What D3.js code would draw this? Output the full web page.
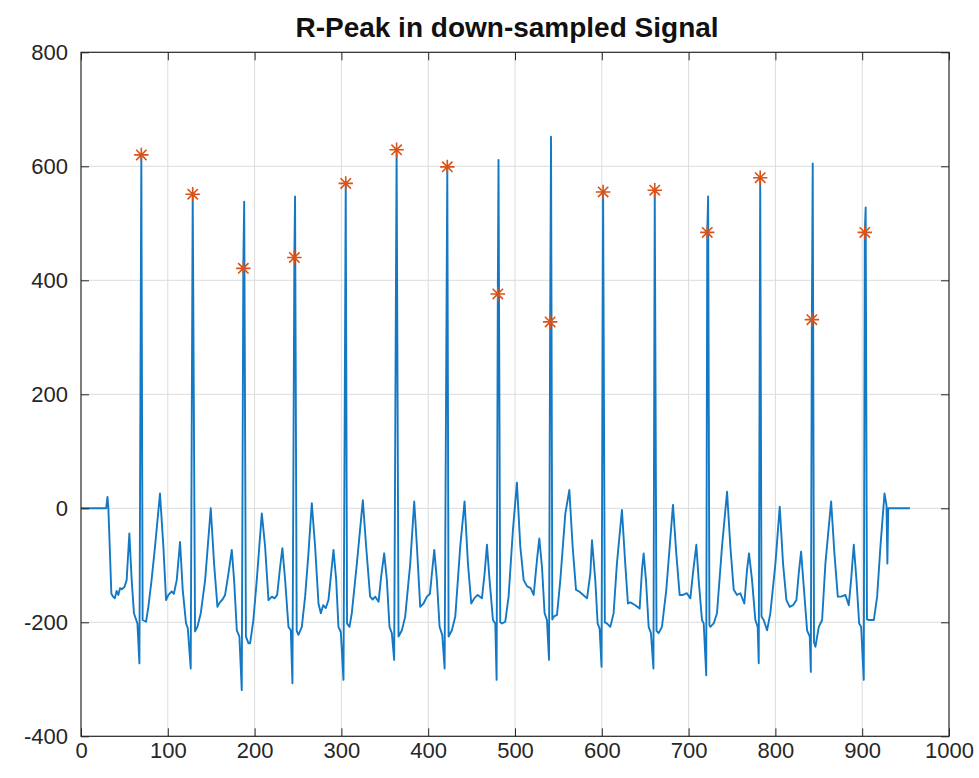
<!DOCTYPE html>
<html>
<head>
<meta charset="utf-8">
<script src="https://cdn.jsdelivr.net/npm/d3@7/dist/d3.min.js"></script>
<style>
  html, body { margin: 0; padding: 0; background: #ffffff; }
  svg { display: block; }
</style>
</head>
<body>
<div id="chart"></div>
<script>
// ---- data ----
const chartTitle = "R-Peak in down-sampled Signal";
const xTicks = [0, 100, 200, 300, 400, 500, 600, 700, 800, 900, 1000];
const yTicks = [-400, -200, 0, 200, 400, 600, 800];

// down-sampled ECG signal, [sample index, amplitude]
const ecgSignal = [
  [0,0],[29,0],[30.5,20],[31.5,2],[35,-150],[37,-155],[39,-158],[41,-145],[43,-152],[45,-140],[47,-142],[50,-138],[52.6,-126],[55.7,-44],[58.4,-126],[61,-184],[65,-202],[67.3,-272],[69.5,620],[71,-196],[75,-199],[77.6,-173],[81,-130],[85.3,-67],[91,26],[94.9,-67],[98,-161],[100.7,-152],[104.5,-146],[107,-150],[110.3,-126],[114.1,-59],[117.2,-143],[121,-202],[123,-210],[126.4,-281],
  [128.7,551],[131.4,-216],[134.1,-208],[138,-184],[143,-126],[149.5,0],[153.3,-97],[157.2,-173],[160,-165],[163,-160],[166,-152],[169.9,-114],[173.7,-73],[176.4,-126],[179.5,-214],[182.5,-225],[185.2,-319],
  [187,421],[188,538],[190,-225],[193,-237],[194.8,-237],[198.6,-196],[202.5,-126],[208.3,-9],[212.1,-67],[216,-161],[219.8,-155],[223,-158],[226,-152],[229.4,-103],[232,-70],[235.2,-126],[239,-208],[241.7,-214],[243.6,-307],
  [245.8,440],[246.6,547],[248.5,-215],[250.5,-222],[254.4,-208],[258.2,-155],[262,-80],[265.9,9],[269.7,-67],[273.6,-167],[276.3,-184],[279,-170],[282,-175],[285.1,-161],[287.8,-120],[290.9,-73],[294,-126],[296.6,-208],[299.3,-217],[302.4,-301],
  [305,570],[306.5,-202],[309.3,-208],[312,-184],[317.8,-97],[324.7,14],[328.5,-67],[333.1,-155],[336,-160],[339,-155],[342.8,-164],[345.8,-120],[349.3,-79],[352.4,-126],[355.4,-208],[358.1,-219],[360.8,-266],
  [363.6,629],[365.8,-225],[369.7,-214],[373.5,-190],[379.3,-97],[383.9,12],[387,-67],[390.8,-173],[394.6,-167],[398.5,-155],[402,-150],[404.3,-114],[407,-73],[410,-126],[413.1,-208],[416.2,-222],[418.9,-281],
  [422,599],[423.5,-225],[427.3,-214],[431.2,-190],[436.9,-67],[441.9,12],[445.8,-97],[449.6,-167],[453,-158],[457,-152],[461.9,-158],[465,-114],[467.7,-64],[470.7,-126],[474.6,-196],[477.3,-202],[478.8,-301],
  [480.2,376],[481,611],[483,-200],[485,-202],[488.8,-199],[492.6,-155],[497.6,-38],[502.2,45],[506.1,-67],[510,-126],[514,-137],[518,-140],[521.5,-152],[525.3,-91],[528,-53],[531.1,-103],[534.1,-184],[536.8,-196],[539.2,-266],
  [540.5,327],[541.5,652],[543,-195],[544.5,-190],[548.4,-187],[552.2,-126],[558,-9],[562.6,32],[566.4,-67],[570.3,-143],[574,-146],[578.6,-152],[583,-158],[586.8,-114],[588.7,-56],[592.5,-126],[595.2,-202],[597.5,-211],[599.7,-278],
  [601.5,555],[603.5,-200],[605.9,-202],[609.8,-208],[613.6,-184],[617.4,-97],[623.2,-3],[627,-97],[630.1,-167],[633,-165],[638.6,-170],[643.6,-176],[646.3,-108],[648.2,-79],[650.9,-126],[654,-208],[656.6,-219],[659.5,-281],
  [661,558],[663,-215],[665.5,-219],[669.3,-208],[674.3,-143],[682,6],[685.8,-79],[689.7,-152],[693.5,-152],[698,-149],[702,-158],[705,-114],[708.9,-64],[711.6,-126],[715.4,-196],[717.4,-202],[720.3,-293],
  [721.5,484],[722.5,547],[724,-205],[725,-208],[728.9,-202],[732.7,-184],[738.5,-67],[744.3,29],[748.1,-67],[752,-143],[755.8,-152],[759.6,-149],[764.2,-167],[767.3,-108],[769.6,-79],[773.1,-126],[776.9,-196],[779.6,-208],[780.8,-272],
  [782.5,580],[784,-190],[786.5,-196],[790.4,-214],[794.2,-184],[800,-97],[805,3],[808.8,-97],[812.7,-161],[816.5,-173],[820.4,-170],[824.2,-161],[826.9,-114],[829.6,-76],[832.7,-138],[836.5,-214],[839.6,-225],[840.8,-287],
  [842,331],[843,605],[844.5,-235],[846.1,-243],[850,-208],[853.8,-196],[857.6,-97],[864.2,12],[868,-79],[871.9,-155],[875.7,-155],[880.7,-152],[884.5,-170],[887.2,-126],[890.3,-64],[893.4,-126],[896.5,-202],[898.8,-208],[901.8,-301],
  [903,484],[904,528],[905.5,-195],[907.6,-196],[913.4,-196],[917.2,-155],[921,-67],[925.7,26],[928,5],[929,-97],[930,0],[955,0]
];

// detected R-peaks
const peakX = [69.5, 128.7, 187, 245.8, 305, 363.6, 422, 480.2, 540.5, 601.5, 661, 721.5, 782.5, 842, 903];
const peakY = [620, 551, 421, 440, 570, 629, 599, 376, 327, 555, 558, 484, 580, 331, 484];

// ---- layout ----
const W = 979, H = 778;
const plot = { left: 81, right: 949, top: 52.3, bottom: 736.3 };
const fontFamily = "'Liberation Sans', Arial, Helvetica, sans-serif";

const svg = d3.select("#chart").append("svg")
  .attr("width", W).attr("height", H)
  .style("font-family", fontFamily);

const x = d3.scaleLinear().domain([0, 1000]).range([plot.left, plot.right]);
const y = d3.scaleLinear().domain([-400, 800]).range([plot.bottom, plot.top]);

const textColor = "#262626";
const gridColor = "#dcdcdc";

// grid
const grid = svg.append("g");
grid.selectAll("line.gx").data(xTicks.slice(1, -1)).join("line")
  .attr("x1", d => x(d)).attr("x2", d => x(d))
  .attr("y1", plot.top).attr("y2", plot.bottom)
  .attr("stroke", gridColor).attr("stroke-width", 1);
grid.selectAll("line.gy").data(yTicks.slice(1, -1)).join("line")
  .attr("y1", d => y(d)).attr("y2", d => y(d))
  .attr("x1", plot.left).attr("x2", plot.right)
  .attr("stroke", gridColor).attr("stroke-width", 1);

// signal
const line = d3.line().x(d => x(d[0])).y(d => y(d[1]));
svg.append("path")
  .datum(ecgSignal)
  .attr("d", line)
  .attr("fill", "none")
  .attr("stroke", "#1479C4")
  .attr("stroke-width", 1.9)
  .attr("stroke-linejoin", "round");

// asterisk markers
const peaks = peakX.map((px, i) => [px, peakY[i]]);
const r = 7.2, rd = r * 0.72;
const star = `M${-r},0L${r},0M0,${-r}L0,${r}M${-rd},${-rd}L${rd},${rd}M${-rd},${rd}L${rd},${-rd}`;
svg.append("g").selectAll("path").data(peaks).join("path")
  .attr("transform", d => `translate(${x(d[0])},${y(d[1])})`)
  .attr("d", star)
  .attr("fill", "none")
  .attr("stroke", "#D95319")
  .attr("stroke-width", 1.6);

// axes
const tickLen = 8;
const fmt = d => String(d);
const axB = svg.append("g").attr("transform", `translate(0,${plot.bottom})`)
  .call(d3.axisBottom(x).tickValues(xTicks).tickSize(-tickLen).tickPadding(6).tickSizeOuter(0).tickFormat(fmt));
const axT = svg.append("g").attr("transform", `translate(0,${plot.top})`)
  .call(d3.axisTop(x).tickValues(xTicks).tickSize(-tickLen).tickFormat("").tickSizeOuter(0));
const axL = svg.append("g").attr("transform", `translate(${plot.left},0)`)
  .call(d3.axisLeft(y).tickValues(yTicks).tickSize(-tickLen).tickPadding(13).tickSizeOuter(0).tickFormat(fmt));
const axR = svg.append("g").attr("transform", `translate(${plot.right},0)`)
  .call(d3.axisRight(y).tickValues(yTicks).tickSize(-tickLen).tickFormat("").tickSizeOuter(0));

[axB, axT, axL, axR].forEach(a => {
  a.select(".domain").remove();
  a.selectAll(".tick line").attr("stroke", textColor).attr("stroke-width", 1);
  a.selectAll(".tick text").attr("fill", textColor).style("font-size", "22px")
    .style("font-family", fontFamily);
});

// box
svg.append("rect")
  .attr("x", plot.left).attr("y", plot.top)
  .attr("width", plot.right - plot.left).attr("height", plot.bottom - plot.top)
  .attr("fill", "none").attr("stroke", textColor).attr("stroke-width", 1.2);

// title
svg.append("text")
  .attr("x", 507).attr("y", 37)
  .attr("text-anchor", "middle")
  .attr("fill", "#111")
  .style("font-size", "28px").style("font-weight", "bold")
  .text(chartTitle);
</script>
</body>
</html>
